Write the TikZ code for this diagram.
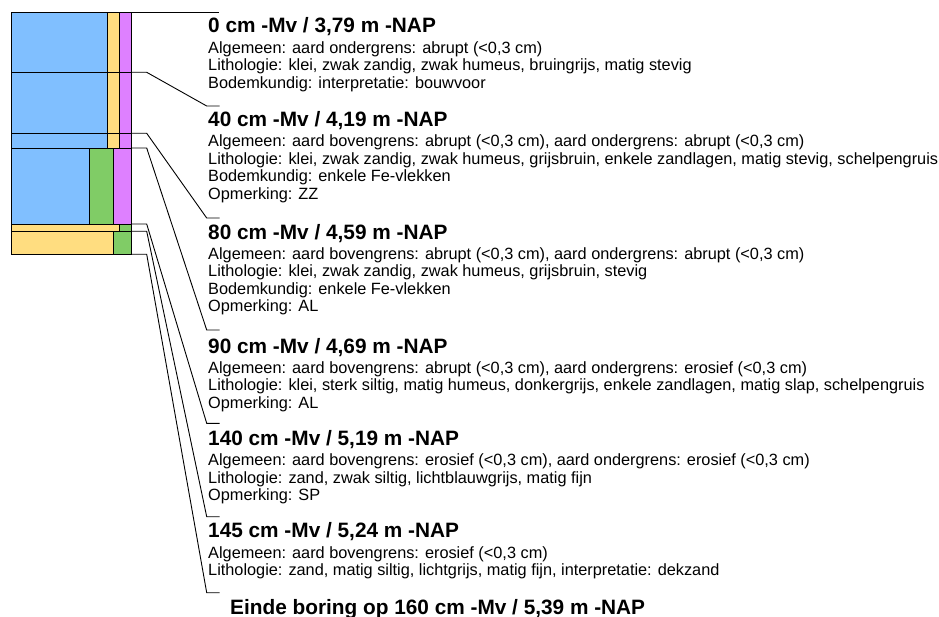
\documentclass[tikz,border=0pt]{standalone}
\usepackage{fontspec}
\setmainfont{Liberation Sans}
\usetikzlibrary{positioning}

\definecolor{klei}{RGB}{128,191,255}
\definecolor{zand}{RGB}{255,221,128}
\definecolor{humus}{RGB}{222,128,255}
\definecolor{silt}{RGB}{128,204,102}

\tikzstyle{laag} = [draw=black, line width=0.9pt]
\tikzstyle{leader} = [draw=black, line width=0.9pt]
\tikzstyle{diepte} = [anchor=base west, inner sep=0pt, font=\fontsize{20.8}{24}\selectfont\bfseries]
\tikzstyle{omschr} = [inner sep=0pt, align=left, font=\fontsize{16.3}{17.6}\selectfont]

\begin{document}
\begin{tikzpicture}[x=1pt, y=-1pt]
    \useasboundingbox (0,0) rectangle (939,617);

    % boorkolom: grondsoort, bijmenging, humus
    \filldraw[laag, fill=klei] (11,12.3) rectangle (107,72.3);
    \filldraw[laag, fill=zand] (107,12.3) rectangle (119,72.3);
    \filldraw[laag, fill=humus] (119,12.3) rectangle (131.7,72.3);
    \filldraw[laag, fill=klei] (11,72.3) rectangle (107,133.3);
    \filldraw[laag, fill=zand] (107,72.3) rectangle (119,133.3);
    \filldraw[laag, fill=humus] (119,72.3) rectangle (131.7,133.3);
    \filldraw[laag, fill=klei] (11,133.3) rectangle (107,148);
    \filldraw[laag, fill=zand] (107,133.3) rectangle (119,148);
    \filldraw[laag, fill=humus] (119,133.3) rectangle (131.7,148);
    \filldraw[laag, fill=klei] (11,148) rectangle (89.3,224);
    \filldraw[laag, fill=silt] (89.3,148) rectangle (113.7,224);
    \filldraw[laag, fill=humus] (113.7,148) rectangle (131.7,224);
    \filldraw[laag, fill=zand] (11,224) rectangle (119,231.3);
    \filldraw[laag, fill=silt] (119,224) rectangle (131.7,231.3);
    \filldraw[laag, fill=zand] (11,231.3) rectangle (113.7,254.3);
    \filldraw[laag, fill=silt] (113.7,231.3) rectangle (131.7,254.3);

    % laaggrenzen aan de rechterkant van de kolom
    \coordinate (c0) at (131.7,12.3);
    \coordinate (c40) at (131.7,72.3);
    \coordinate (c80) at (131.7,133.3);
    \coordinate (c90) at (131.7,148);
    \coordinate (c140) at (131.7,224);
    \coordinate (c145) at (131.7,231.3);
    \coordinate (c160) at (131.7,254.3);

    % knikpunten bij de beschrijvingen
    \coordinate (k0) at (206.7,12.3);
    \coordinate (k40) at (206.7,106);
    \coordinate (k80) at (206.7,218);
    \coordinate (k90) at (206.7,330);
    \coordinate (k140) at (206.7,423.3);
    \coordinate (k145) at (206.7,516.7);
    \coordinate (k160) at (206.7,592.7);

    \draw[leader] (c0) -- (k0) -- ++(12,0);
    \foreach \d in {40,80,90,140,145,160}
        \draw[leader] (c\d) -- ++(15,0) -- (k\d) -- ++(13,0);

    % beschrijvingen per laag
    \node (t0) [diepte] at (208,33) {0 cm -Mv / 3,79 m -NAP};
    \node (b0) [omschr, below=8pt of t0.base west, anchor=north west] {Algemeen: aard ondergrens: abrupt (<0,3 cm)\\Lithologie: klei, zwak zandig, zwak humeus, bruingrijs, matig stevig\\Bodemkundig: interpretatie: bouwvoor};

    \node (t40) [diepte] at (208,126.5) {40 cm -Mv / 4,19 m -NAP};
    \node (b40) [omschr, below=8pt of t40.base west, anchor=north west] {Algemeen: aard bovengrens: abrupt (<0,3 cm), aard ondergrens: abrupt (<0,3 cm)\\Lithologie: klei, zwak zandig, zwak humeus, grijsbruin, enkele zandlagen, matig stevig, schelpengruis\\Bodemkundig: enkele Fe-vlekken\\Opmerking: ZZ};

    \node (t80) [diepte] at (208,240) {80 cm -Mv / 4,59 m -NAP};
    \node (b80) [omschr, below=7pt of t80.base west, anchor=north west] {Algemeen: aard bovengrens: abrupt (<0,3 cm), aard ondergrens: abrupt (<0,3 cm)\\Lithologie: klei, zwak zandig, zwak humeus, grijsbruin, stevig\\Bodemkundig: enkele Fe-vlekken\\Opmerking: AL};

    \node (t90) [diepte] at (208,353) {90 cm -Mv / 4,69 m -NAP};
    \node (b90) [omschr, below=8pt of t90.base west, anchor=north west] {Algemeen: aard bovengrens: abrupt (<0,3 cm), aard ondergrens: erosief (<0,3 cm)\\Lithologie: klei, sterk siltig, matig humeus, donkergrijs, enkele zandlagen, matig slap, schelpengruis\\Opmerking: AL};

    \node (t140) [diepte] at (208,445) {140 cm -Mv / 5,19 m -NAP};
    \node (b140) [omschr, below=8.5pt of t140.base west, anchor=north west] {Algemeen: aard bovengrens: erosief (<0,3 cm), aard ondergrens: erosief (<0,3 cm)\\Lithologie: zand, zwak siltig, lichtblauwgrijs, matig fijn\\Opmerking: SP};

    \node (t145) [diepte] at (208,537.5) {145 cm -Mv / 5,24 m -NAP};
    \node (b145) [omschr, below=8.5pt of t145.base west, anchor=north west] {Algemeen: aard bovengrens: erosief (<0,3 cm)\\Lithologie: zand, matig siltig, lichtgrijs, matig fijn, interpretatie: dekzand};

    \node (t160) [diepte] at (230,614) {Einde boring op 160 cm -Mv / 5,39 m -NAP};
\end{tikzpicture}
\end{document}
